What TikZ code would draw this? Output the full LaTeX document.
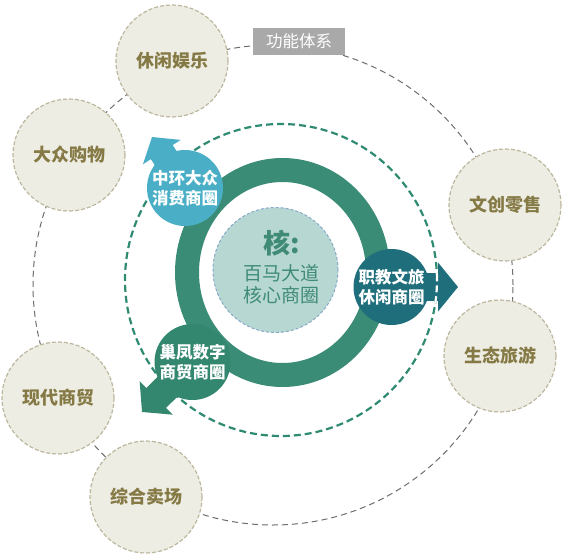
\documentclass[tikz,border=0pt]{standalone}
\usepackage{fontspec}
\setmainfont{Noto Sans CJK SC}
\usetikzlibrary{arrows.meta}
\definecolor{satfill}{HTML}{EEEDE4}
\definecolor{satline}{HTML}{BDB79E}
\definecolor{sattext}{HTML}{857A45}
\definecolor{outerline}{HTML}{6E6E6E}
\definecolor{tagfill}{HTML}{A9A9A9}
\definecolor{ringgreen}{HTML}{3B8C76}
\definecolor{dashteal}{HTML}{2F8A72}
\definecolor{corefill}{HTML}{B7D7D3}
\definecolor{coreline}{HTML}{86A9C8}
\definecolor{coretext}{HTML}{3F8B76}
\definecolor{blueC}{HTML}{4AAFC6}
\definecolor{darkC}{HTML}{1F6E7B}
\definecolor{greenC}{HTML}{33876F}
\begin{document}
\begin{tikzpicture}[x=1pt,y=-1pt,
  sat/.style={circle,fill=satfill,draw=satline,line width=1.2pt,dash pattern=on 4pt off 2pt,
    minimum size=112pt,inner sep=0pt,text=sattext,font=\fontsize{18}{20}\selectfont\bfseries},
  hub/.style={circle,minimum size=76pt,inner sep=0pt,text=white,align=center,
    font=\fontsize{16.5}{20}\selectfont\bfseries},
  tag/.style={fill=tagfill,text=white,minimum width=92pt,minimum height=27pt,inner sep=0pt,
    font=\fontsize{16.5}{18}\selectfont},
  tealdash/.style={line width=2.2pt,dash pattern=on 7pt off 4pt}
]
\useasboundingbox (0,0) rectangle (565,554);
\fill[white] (0,0) rectangle (565,554);

% outer dashed circle
\draw[outerline,line width=1pt,dash pattern=on 6pt off 4pt] (273,285) circle[radius=240pt];

% label
\node[tag] (tagbox) at (299,41.5) {功能体系};

% satellites
\node[sat] (s1) at (172,61) {休闲娱乐};
\node[sat] (s2) at (69,155) {大众购物};
\node[sat] (s3) at (505,205) {文创零售};
\node[sat] (s4) at (500,356) {生态旅游};
\node[sat] (s5) at (58,398) {现代商贸};
\node[sat] (s6) at (146,497) {综合卖场};

% inner dashed teal circle
\draw[dashteal,tealdash] (281,280) circle[radius=156pt];

% thick ring
\draw[ringgreen,line width=24pt] (282.5,272.5) ellipse[x radius=95.5pt,y radius=102.5pt];

% core
\node[circle,fill=corefill,draw=coreline,line width=1pt,dash pattern=on 3pt off 2pt,
  minimum size=125pt,inner sep=0pt] (core) at (275.5,270) {};
\node[text=coretext,font=\fontsize{27}{30}\selectfont\bfseries] (coreA) at (282,243) {核:};
\node[text=coretext,align=center,font=\fontsize{19}{22}\selectfont] (coreB) at (281,284) {百马大道\\核心商圈};

% arrow tips
\coordinate (tipA) at (152,137);
\coordinate (tipB) at (458,287);
\coordinate (tipC) at (142,412);
\coordinate (cA) at (185,188);
\coordinate (cB) at (391.5,287);
\coordinate (cC) at (192.5,362);

\draw[blueC,line width=26pt,-{Triangle[width=44pt,length=18pt]}] (cA) -- (tipA);
\draw[darkC,line width=28pt,-{Triangle[width=48pt,length=20pt]}] (cB) -- (tipB);
\draw[greenC,line width=28pt,-{Triangle[width=46pt,length=20pt]}] (cC) -- (tipC);

% dashed circle crossing the right arrow shows as white dashes
\begin{scope}
  \clip (429,272) rectangle (446,302);
  \draw[white,tealdash] (281,280) circle[radius=156pt];
\end{scope}

% hub circles
\node[hub,fill=blueC] (hA) at (cA) {中环大众\\消费商圈};
\node[hub,fill=darkC] (hB) at (cB) {职教文旅\\休闲商圈};
\node[hub,fill=greenC] (hC) at (cC) {巢凤数字\\商贸商圈};
\end{tikzpicture}
\end{document}
